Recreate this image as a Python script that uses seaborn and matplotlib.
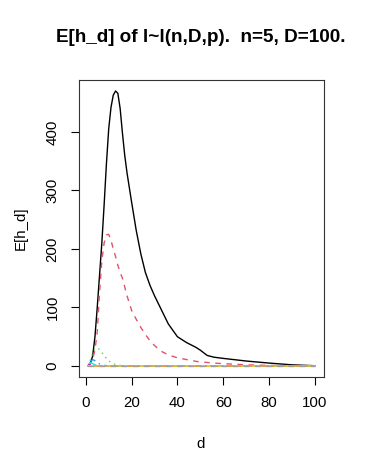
import numpy as np
import pandas as pd
import matplotlib
matplotlib.use("Agg")
import matplotlib.pyplot as plt
import seaborn as sns

sns.set_theme(style="white")
plt.rcParams["font.family"] = ["Liberation Sans", "DejaVu Sans"]
plt.rcParams["text.color"] = "black"
plt.rcParams["xtick.color"] = "black"
plt.rcParams["ytick.color"] = "black"

# E[h_d] curves, one column per h
d_main = [1, 2, 3, 4, 5, 6, 7, 8, 9, 10, 11, 12, 13, 14, 15, 16, 17, 18, 20, 22,
          24, 26, 28, 30, 33, 36, 40, 44, 48, 50, 53, 56, 60, 70, 80, 90, 100]
h1 = [0, 5, 17, 50, 100, 155, 210, 275, 345, 405, 442, 463, 470, 466, 440, 398, 360, 330, 280, 232,
      192, 160, 138, 120, 96, 72, 50, 40, 32, 27, 18, 15, 13, 8.5, 5, 2, 0.5]
h2 = [0, 4, 12, 27, 58, 125, 180, 210, 224, 225, 215, 200, 187, 172, 160, 150, 135, 120, 95, 80,
      66, 54, 43, 35, 25, 19, 14, 11, 8, 7, 6, 5, 4, 2, 1, 0.5, 0.2]
d_small = [1, 2, 3, 4, 5, 6, 7, 8, 9, 10, 11, 12, 13, 14, 15, 16, 20, 100]
h3 = [0, 10, 22, 29, 31, 28, 23, 18, 13, 9, 6, 4, 2.5, 1.5, 1, 0.5, 0, 0]
h4 = [0, 8, 11, 9, 6, 3.5, 2, 1, 0.5, 0.2, 0, 0, 0, 0, 0, 0, 0, 0]
h5 = [2, 6, 4, 2, 1, 0.5, 0.2, 0, 0, 0, 0, 0, 0, 0, 0, 0, 0, 0]
h6 = [2, 1.5, 0.5, 0.1, 0, 0, 0, 0, 0, 0, 0, 0, 0, 0, 0, 0, 0, 0]
h7 = [0.5, 0.2, 0, 0, 0, 0, 0, 0, 0, 0, 0, 0, 0, 0, 0, 0, 0, 0]
h8 = [0, 0, 0, 0, 0, 0, 0, 0, 0, 0, 0, 0, 0, 0, 0, 0, 0, 0]

# R matplot defaults: palette and lty 1..6
cols = ["black", "#DF536B", "#61D04F", "#2297E6", "#28E2E5", "#CD0BBC", "#F5C710", "#9E9E9E"]
dashes = [None, (4, 4), (1, 3), (1, 3, 4, 3), (7, 3), (2, 2, 6, 2), None, (4, 4)]

fig = plt.figure(figsize=(3.65, 4.74), dpi=100)
ax = fig.add_axes([79 / 365, 1 - 377 / 474, 245 / 365, 297 / 474])

series = [(d_main, h1), (d_main, h2), (d_small, h3), (d_small, h4),
          (d_small, h5), (d_small, h6), (d_small, h7), (d_small, h8)]
for i, (xs, ys) in enumerate(series):
    sns.lineplot(x=xs, y=ys, ax=ax, color=cols[i], linewidth=1.0)
    line = ax.lines[-1]
    if dashes[i] is not None:
        line.set_dashes(dashes[i])

ax.set_xlim(-2.96, 103.96)
ax.set_ylim(-18.8, 488.8)
ax.set_xticks([0, 20, 40, 60, 80, 100])
ax.set_yticks([0, 100, 200, 300, 400])
ax.tick_params(axis="both", which="both", direction="out", length=6, width=0.8,
               color="black", labelcolor="black", labelsize=10.8, pad=8,
               bottom=True, left=True)
for lab in ax.get_yticklabels():
    lab.set_rotation(90)
    lab.set_va("center")
for sp in ax.spines.values():
    sp.set_color("#333333")
    sp.set_linewidth(0.8)
ax.set_xlabel("")
ax.set_ylabel("")

fig.text(201 / 365, 1 - 38 / 474, "E[h_d] of l~l(n,D,p).  n=5, D=100.",
         ha="center", va="center", fontsize=13.6, fontweight="bold")
fig.text(201 / 365, 1 - 444 / 474, "d", ha="center", va="center", fontsize=10.8)
fig.text(21 / 365, 1 - 228 / 474, "E[h_d]", ha="center", va="center",
         fontsize=10.8, rotation=90)

fig.savefig("out.png", dpi=100)
